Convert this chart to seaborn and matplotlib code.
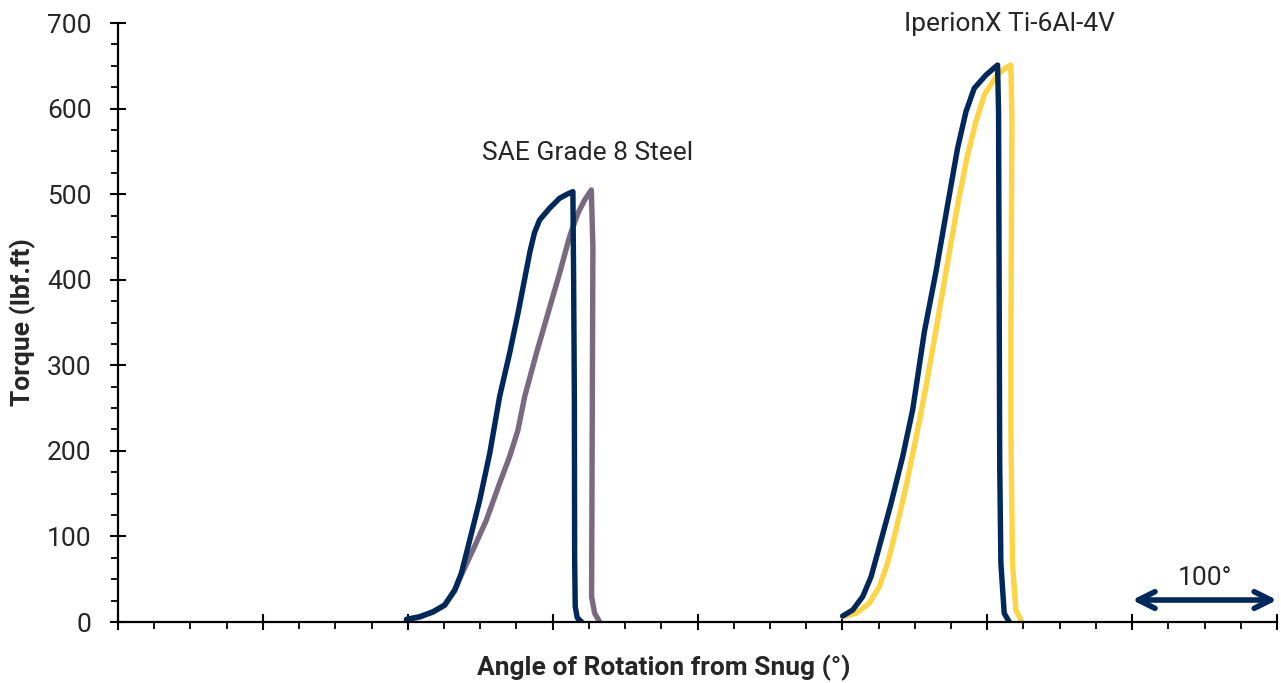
import pandas as pd
import seaborn as sns
import matplotlib.pyplot as plt
from matplotlib.ticker import MultipleLocator, NullFormatter

# Torque vs angle curves
steel_a_angle = [199.1, 208.3, 217.4, 225.5, 232.4, 237.0, 242.8, 249.7, 256.6, 263.4, 270.3, 276.1,
                 281.9, 284.5, 287.5, 291.0, 297.9, 304.8, 310.0, 314.0, 314.5, 315.0, 315.2, 315.6, 317.0, 320.0]
steel_a_torque = [3.2, 6.2, 12.0, 19.9, 37.4, 56.9, 95.8, 142.6, 197.1, 263.3, 314.0, 360.8,
                  411.4, 434.0, 455.0, 469.8, 483.5, 495.2, 500.0, 502.9, 400.0, 263.0, 76.0, 18.0, 5.0, 0.0]

steel_b_angle = [199.1, 208.3, 217.4, 225.5, 232.4, 237.0, 245.0, 254.3, 263.4, 270.3, 276.1, 280.7,
                 288.8, 296.8, 304.8, 311.7, 317.4, 322.1, 326.7, 327.8, 327.4, 326.9, 329.0, 332.4]
steel_b_torque = [2.5, 5.8, 11.5, 19.5, 36.5, 55.0, 84.1, 119.2, 162.1, 193.2, 224.4, 263.3,
                  314.0, 360.8, 407.5, 450.3, 477.6, 493.2, 504.9, 438.6, 263.3, 29.6, 10.2, 0.4]

ti_a_angle = [500.2, 507.1, 514.0, 519.8, 525.5, 533.6, 541.6, 548.5, 556.6, 564.6, 572.6, 579.5,
              585.3, 591.0, 599.1, 607.1, 607.8, 608.3, 608.6, 609.4, 611.7, 615.2]
ti_a_torque = [7.0, 14.0, 29.6, 52.9, 88.0, 138.7, 193.2, 247.8, 339.3, 409.4, 487.3, 553.6,
               596.4, 623.7, 639.2, 650.9, 596.4, 339.3, 183.0, 68.6, 10.2, 0.0]

ti_b_angle = [500.2, 509.4, 518.6, 525.5, 531.2, 537.0, 543.9, 551.9, 557.7, 564.6, 571.5, 579.5,
              586.4, 592.2, 597.9, 606.0, 611.0, 616.3, 617.0, 616.3, 616.3, 617.4, 619.8, 623.9]
ti_b_torque = [6.2, 10.2, 21.9, 41.3, 68.6, 107.5, 158.1, 224.4, 275.0, 341.2, 409.4, 487.3,
               545.7, 584.7, 615.9, 637.3, 645.5, 650.9, 584.7, 339.3, 224.4, 68.6, 14.0, 0.0]

series = {
    'steel_a': (steel_a_angle, steel_a_torque),
    'steel_b': (steel_b_angle, steel_b_torque),
    'ti_a': (ti_a_angle, ti_a_torque),
    'ti_b': (ti_b_angle, ti_b_torque),
}
colors = {'steel_a': '#00285A', 'steel_b': '#7A6A80', 'ti_a': '#00285A', 'ti_b': '#FDD444'}
draw_order = ['steel_b', 'steel_a', 'ti_b', 'ti_a']

frames = []
for name, (ang, tq) in series.items():
    frames.append(pd.DataFrame({'angle': ang, 'torque': tq, 'series': name}))
df = pd.concat(frames, ignore_index=True)

sns.set_style('ticks')
plt.rcParams['font.family'] = ['Roboto', 'DejaVu Sans']

fig = plt.figure(figsize=(12.81, 6.83), dpi=100)
ax = fig.add_axes([0.0921, 0.0893, 0.9048, 0.877])

for name in draw_order:
    sub = df[df['series'] == name]
    sns.lineplot(data=sub, x='angle', y='torque', ax=ax, color=colors[name],
                 linewidth=3.9, sort=False, estimator=None, legend=False,
                 solid_capstyle='round', solid_joinstyle='round')

ax.set_xlim(0, 800)
ax.set_ylim(0, 700)
ax.xaxis.set_major_locator(MultipleLocator(100))
ax.xaxis.set_minor_locator(MultipleLocator(25))
ax.xaxis.set_major_formatter(NullFormatter())
ax.yaxis.set_major_locator(MultipleLocator(100))
ax.yaxis.set_minor_locator(MultipleLocator(25))
ax.tick_params(axis='both', which='major', direction='inout', length=12, width=1.5, color='black', labelsize=19)
ax.tick_params(axis='both', which='minor', direction='out', length=4.8, width=1.3, color='black')
ax.tick_params(axis='y', which='major', pad=13)
for side in ['left', 'bottom']:
    ax.spines[side].set_linewidth(1.6)
    ax.spines[side].set_color('black')
for side in ['top', 'right']:
    ax.spines[side].set_visible(False)

ax.set_xlabel('Angle of Rotation from Snug (°)', fontsize=19, fontweight='bold')
ax.xaxis.set_label_coords(0.471, -0.055)
ax.set_ylabel('Torque (lbf.ft)', fontsize=19, fontweight='bold', labelpad=8)

ax.text(324, 548, 'SAE Grade 8 Steel', fontsize=19, ha='center', va='center')
ax.text(615, 699, 'IperionX Ti-6Al-4V', fontsize=19, ha='center', va='center')

# 100 degree scale arrow
ax.annotate('', xy=(800, 25.7), xytext=(700, 25.7),
            arrowprops=dict(arrowstyle='<->', color='#00285A', lw=4, mutation_scale=30,
                            shrinkA=0, shrinkB=0, capstyle='round', joinstyle='round'),
            annotation_clip=False)
ax.text(750, 52, '100°', fontsize=19, ha='center', va='center')

fig.savefig('out.png', dpi=100)
